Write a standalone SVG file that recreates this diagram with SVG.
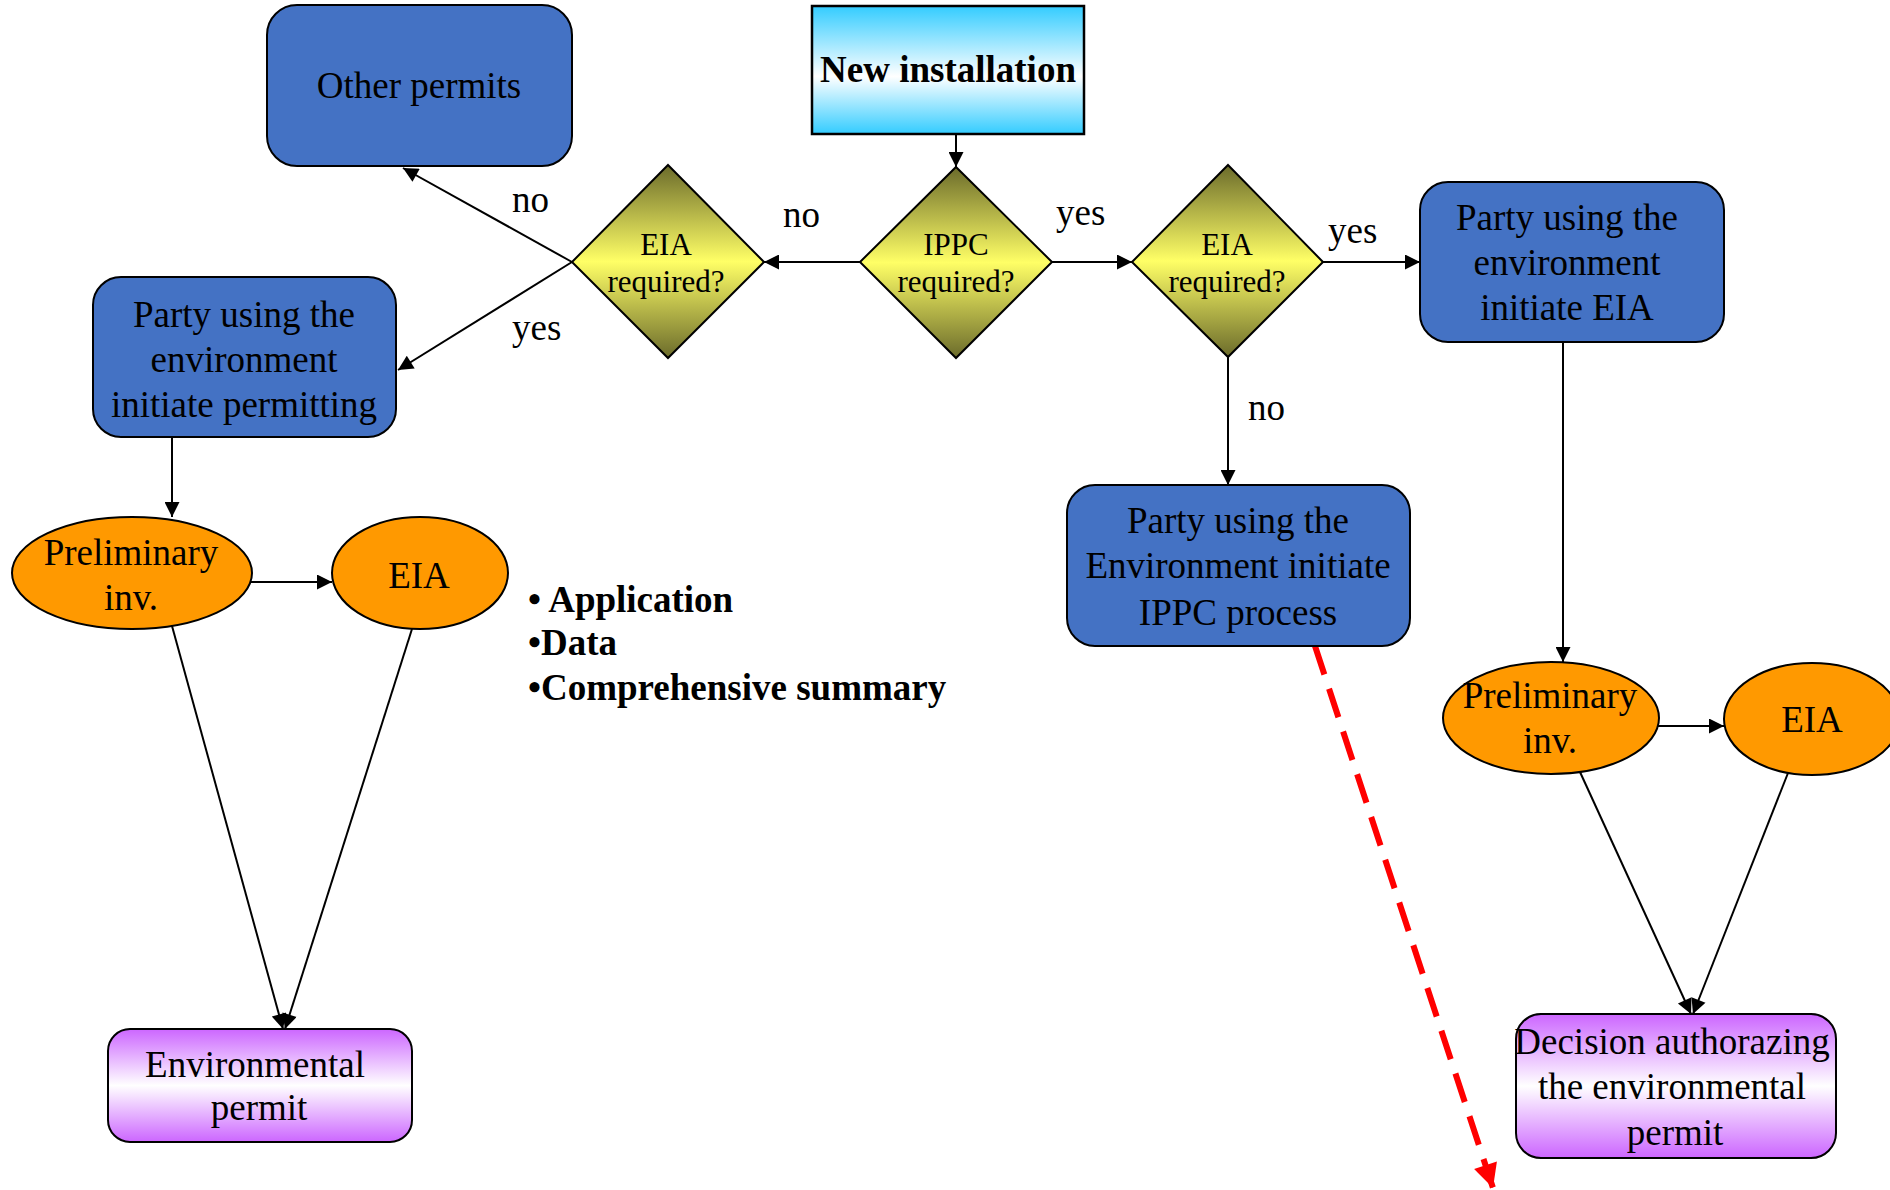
<svg xmlns="http://www.w3.org/2000/svg" width="1890" height="1190" viewBox="0 0 1890 1190">
  <defs>
    <linearGradient id="gBlue" x1="0" y1="0" x2="0" y2="1">
      <stop offset="0" stop-color="#33ccff"/>
      <stop offset="0.55" stop-color="#ffffff"/>
      <stop offset="1" stop-color="#33ccff"/>
    </linearGradient>
    <linearGradient id="gOlive" x1="0" y1="0" x2="0" y2="1">
      <stop offset="0" stop-color="#6b6b2b"/>
      <stop offset="0.5" stop-color="#ffff66"/>
      <stop offset="1" stop-color="#6b6b2b"/>
    </linearGradient>
    <linearGradient id="gPurple" x1="0" y1="0" x2="0" y2="1">
      <stop offset="0" stop-color="#cc66ff"/>
      <stop offset="0.5" stop-color="#ffffff"/>
      <stop offset="1" stop-color="#cc66ff"/>
    </linearGradient>
    <marker id="arrow" viewBox="0 0 10 10" refX="10" refY="5" markerUnits="userSpaceOnUse" markerWidth="18" markerHeight="15" orient="auto">
      <path d="M0,0 L10,5 L0,10 z" fill="#000" stroke="none"/>
    </marker>
    <marker id="arrowRed" viewBox="0 0 10 10" refX="10" refY="5" markerUnits="userSpaceOnUse" markerWidth="28" markerHeight="24" orient="auto">
      <path d="M0,0 L10,5 L0,10 z" fill="#ff0000" stroke="none"/>
    </marker>
    <style>
      text { font-family: "Liberation Serif", "Times New Roman", serif; fill: #000; }
      .t { font-size: 37px; text-anchor: middle; }
      .d { font-size: 31px; text-anchor: middle; }
      .b { font-weight: bold; }
      .lbl { font-size: 37px; }
      .box { fill: #4472c4; stroke: #000; stroke-width: 2; }
      .oval { fill: #ff9900; stroke: #000; stroke-width: 2; }
      .dia { fill: url(#gOlive); stroke: #000; stroke-width: 2; }
      .perm { fill: url(#gPurple); stroke: #000; stroke-width: 2; }
      .conn line { stroke: #000; stroke-width: 2; marker-end: url(#arrow); }
      .conn line.red { stroke: #ff0000; stroke-width: 6; stroke-dasharray: 30 15; marker-end: url(#arrowRed); }
    </style>
  </defs>

  <rect width="1890" height="1190" fill="#ffffff"/>

  <!-- connectors -->
  <g id="connectors" class="conn">
    <line x1="956" y1="134" x2="956" y2="167"/>
    <line x1="860" y1="262" x2="764" y2="262"/>
    <line x1="1052" y1="262" x2="1132" y2="262"/>
    <line x1="572" y1="262" x2="403" y2="168"/>
    <line x1="572" y1="262" x2="398" y2="370"/>
    <line x1="1323" y1="262" x2="1420" y2="262"/>
    <line x1="1228" y1="357" x2="1228" y2="485"/>
    <line x1="172" y1="437" x2="172" y2="517"/>
    <line x1="251" y1="582" x2="332" y2="582"/>
    <line x1="172" y1="626" x2="283" y2="1029"/>
    <line x1="412" y1="629" x2="285" y2="1029"/>
    <line x1="1563" y1="342" x2="1563" y2="662"/>
    <line x1="1658" y1="726" x2="1724" y2="726"/>
    <line x1="1580" y1="772" x2="1691" y2="1014"/>
    <line x1="1788" y1="773" x2="1693" y2="1014"/>
    <line class="red" x1="1315" y1="646" x2="1493" y2="1188"/>
  </g>

  <!-- edge labels -->
  <g id="labels">
    <text class="lbl" x="512" y="212">no</text>
    <text class="lbl" x="512" y="340">yes</text>
    <text class="lbl" x="783" y="227">no</text>
    <text class="lbl" x="1056" y="225">yes</text>
    <text class="lbl" x="1328" y="243">yes</text>
    <text class="lbl" x="1248" y="420">no</text>
  </g>

  <g id="new-installation">
    <rect x="812" y="6" width="272" height="128" fill="url(#gBlue)" stroke="#000" stroke-width="2.5"/>
    <text class="t b" x="948" y="82">New installation</text>
  </g>

  <g id="ippc-required">
    <polygon class="dia" points="956,167 1052,262 956,358 860,262"/>
    <text class="d" x="956" y="255">IPPC</text>
    <text class="d" x="956" y="292">required?</text>
  </g>

  <g id="eia-required-left">
    <polygon class="dia" points="668,165 764,262 668,358 572,262"/>
    <text class="d" x="666" y="255">EIA</text>
    <text class="d" x="666" y="292">required?</text>
  </g>

  <g id="eia-required-right">
    <polygon class="dia" points="1228,165 1323,262 1228,357 1132,262"/>
    <text class="d" x="1227" y="255">EIA</text>
    <text class="d" x="1227" y="292">required?</text>
  </g>

  <g id="other-permits">
    <rect class="box" x="267" y="5" width="305" height="161" rx="30"/>
    <text class="t" x="419" y="98">Other permits</text>
  </g>

  <g id="party-permitting">
    <rect class="box" x="93" y="277" width="303" height="160" rx="28"/>
    <text class="t" x="244" y="327">Party using the</text>
    <text class="t" x="244" y="372">environment</text>
    <text class="t" x="244" y="417">initiate permitting</text>
  </g>

  <g id="party-eia">
    <rect class="box" x="1420" y="182" width="304" height="160" rx="28"/>
    <text class="t" x="1567" y="230">Party using the</text>
    <text class="t" x="1567" y="275">environment</text>
    <text class="t" x="1567" y="320">initiate EIA</text>
  </g>

  <g id="party-ippc">
    <rect class="box" x="1067" y="485" width="343" height="161" rx="28"/>
    <text class="t" x="1238" y="533">Party using the</text>
    <text class="t" x="1238" y="578">Environment initiate</text>
    <text class="t" x="1238" y="625">IPPC process</text>
  </g>

  <g id="prelim-left">
    <ellipse class="oval" cx="132" cy="573" rx="120" ry="56"/>
    <text class="t" x="131" y="565">Preliminary</text>
    <text class="t" x="131" y="610">inv.</text>
  </g>

  <g id="eia-left">
    <ellipse class="oval" cx="420" cy="573" rx="88" ry="56"/>
    <text class="t" x="419" y="588">EIA</text>
  </g>

  <g id="prelim-right">
    <ellipse class="oval" cx="1551" cy="718" rx="108" ry="56"/>
    <text class="t" x="1550" y="708">Preliminary</text>
    <text class="t" x="1550" y="753">inv.</text>
  </g>

  <g id="eia-right">
    <ellipse class="oval" cx="1812" cy="719" rx="88" ry="56"/>
    <text class="t" x="1812" y="732">EIA</text>
  </g>

  <g id="environmental-permit">
    <rect class="perm" x="108" y="1029" width="304" height="113" rx="22"/>
    <text class="t" x="255" y="1077">Environmental</text>
    <text class="t" x="259" y="1120">permit</text>
  </g>

  <g id="decision">
    <rect class="perm" x="1516" y="1014" width="320" height="144" rx="25"/>
    <text class="t" x="1672" y="1054">Decision authorazing</text>
    <text class="t" x="1672" y="1099">the environmental</text>
    <text class="t" x="1675" y="1145">permit</text>
  </g>

  <g id="documents">
    <text class="lbl b" x="528" y="612" xml:space="preserve">• Application</text>
    <text class="lbl b" x="528" y="655">•Data</text>
    <text class="lbl b" x="528" y="700">•Comprehensive summary</text>
  </g>
</svg>
